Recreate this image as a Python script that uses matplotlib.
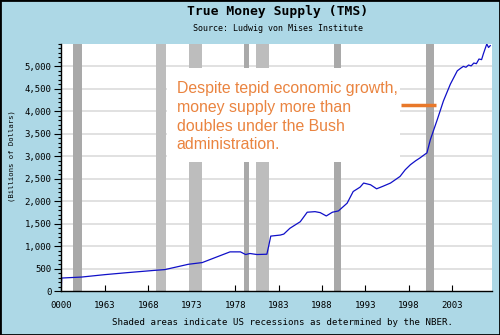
#################### True Money Supply chart ####################

import numpy as np
import matplotlib
matplotlib.use('Agg')
import matplotlib.pyplot as plt
from matplotlib.patches import Rectangle
from matplotlib.ticker import FuncFormatter, FixedLocator, MultipleLocator


# money supply series (billions of dollars) by year
years = [1957.95, 1958.0, 1960.3, 1963.0, 1965.5, 1968.8, 1969.9, 1971.3,
         1972.6, 1974.2, 1975.7, 1977.4, 1978.6, 1979.2, 1979.7, 1980.5,
         1981.65, 1981.84, 1982.1, 1983.2, 1983.6, 1984.3, 1985.5, 1986.3,
         1987.2, 1987.8, 1988.5, 1989.2, 1989.9, 1990.9, 1991.6, 1992.4,
         1992.8, 1993.6, 1994.3, 1995.0, 1995.9, 1997.0, 1997.6, 1998.2,
         1998.8, 1999.3, 1999.7, 2000.1, 2000.5, 2001.3, 2002.0, 2002.8,
         2003.6, 2004.0, 2004.3, 2004.6, 2004.9, 2005.2, 2005.5, 2005.8,
         2006.1, 2006.4, 2006.6, 2007.0, 2007.2, 2007.4]
tms = [0, 291, 313, 367, 410, 463, 479, 540,
       597, 635, 747, 873, 873, 814, 837, 814,
       821, 985, 1224, 1247, 1269, 1397, 1544, 1755,
       1768, 1746, 1672, 1755, 1784, 1956, 2216, 2314,
       2404, 2366, 2276, 2330, 2404, 2551, 2700, 2813,
       2900, 2963, 3020, 3075, 3373, 3820, 4230, 4604,
       4901, 4960, 5000, 4980, 5030, 5010, 5074, 5060,
       5163, 5150, 5275, 5499, 5420, 5461]

# shaded recession periods (start, end)
recession_start = [1959.35, 1968.9, 1972.7, 1979.0, 1980.4, 1989.4, 2000.0]
recession_end = [1960.3, 1970.0, 1974.2, 1979.6, 1981.9, 1990.2, 2000.9]

# x tick positions and labels
tick_years = [1957.92, 1963, 1968, 1973, 1978, 1983, 1988, 1993, 1998, 2003]
tick_labels = ['0000', '1963', '1968', '1973', '1978', '1983', '1988',
               '1993', '1998', '2003']

# labelled y values
y_ticks = list(range(0, 5001, 500))

note = ('Despite tepid economic growth,\nmoney supply more than\n'
        'doubles under the Bush\nadministration.')

BG = '#add8e6'
MONO = 'DejaVu Sans Mono'
ORANGE = '#e8782a'

fig = plt.figure(figsize=(5, 3.35), dpi=100, facecolor=BG)
ax = fig.add_axes([0.122, 0.131, 0.862, 0.738])
ax.set_facecolor('white')

# horizontal grid at each labelled value
for v in y_ticks[1:]:
    ax.axhline(v, color='#dcdcdc', linewidth=1.2, zorder=1)

# recession bars
for s, e in zip(recession_start, recession_end):
    shade = '#a9a9a9' if e - s < 1 else '#bdbdbd'
    ax.axvspan(s, e, color=shade, linewidth=0, zorder=2)

# white box behind the note
ax.add_patch(Rectangle((0.246, 0.522), 0.541, 0.381, transform=ax.transAxes,
                       facecolor='white', edgecolor='none', zorder=3))
ax.text(0.268, 0.848, note, transform=ax.transAxes, ha='left', va='top',
        fontsize=11.4, family='Liberation Sans', color='#ea8440',
        linespacing=1.3, zorder=4)
ax.plot([0.788, 0.870], [0.752, 0.752], transform=ax.transAxes,
        color=ORANGE, linewidth=2.5, solid_capstyle='butt', zorder=4)

# the series itself
ax.plot(years, tms, color='#1010c8', linewidth=0.9, zorder=5)

ax.set_xlim(1957.92, 2007.6)
ax.set_ylim(0, 5500)

ax.set_xticks(tick_years)
ax.set_xticklabels(tick_labels, family=MONO, fontsize=6.5)
ax.yaxis.set_major_locator(FixedLocator(y_ticks))
ax.yaxis.set_minor_locator(MultipleLocator(100))
ax.yaxis.set_major_formatter(FuncFormatter(lambda v, p: f'{v:,.0f}'))
for lbl in ax.get_yticklabels():
    lbl.set_family(MONO)
ax.tick_params(axis='y', which='major', labelsize=6.5, length=5, width=0.8,
               direction='out', pad=2)
ax.tick_params(axis='y', which='minor', length=2.5, width=0.8,
               direction='out')
ax.tick_params(axis='x', length=4, width=0.8, direction='in', pad=7,
               labelsize=6.5)

for side in ['top', 'right']:
    ax.spines[side].set_visible(False)
for side in ['left', 'bottom']:
    ax.spines[side].set_linewidth(1.0)
    ax.spines[side].set_zorder(6)

# titles and notes
fig.text(0.556, 0.967, 'True Money Supply (TMS)', ha='center', va='center',
         family=MONO, fontsize=9.4, fontweight='bold')
fig.text(0.556, 0.916, 'Source: Ludwig von Mises Institute', ha='center',
         va='center', family=MONO, fontsize=6)
fig.text(0.024, 0.534, '(Billions of Dollars)', rotation=90, ha='center',
         va='center', family=MONO, fontsize=5.2)
fig.text(0.566, 0.036,
         'Shaded areas indicate US recessions as determined by the NBER.',
         ha='center', va='center', family=MONO, fontsize=6.6)

# thin black frame around the image
fig.add_artist(Rectangle((0, 0), 1, 1, transform=fig.transFigure,
                         fill=False, edgecolor='black', linewidth=2))

fig.savefig('out.png', dpi=100, facecolor=BG)
